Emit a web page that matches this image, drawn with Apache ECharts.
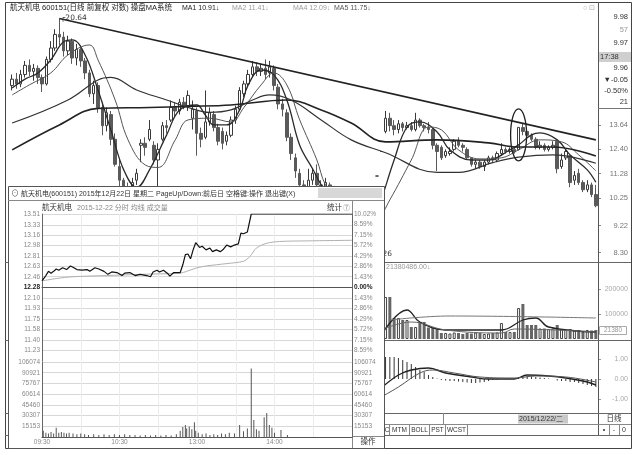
<!DOCTYPE html>
<html>
<head>
<meta charset="UTF-8">
<title>航天机电 600151 日线 操盘MA系统</title>
<style>
  html, body { margin: 0; padding: 0; background: #fff; }
  #main { width: 640px; height: 455px; }
</style>
</head>
<body>
<div id="main"></div>
<script src="https://cdn.jsdelivr.net/npm/echarts@6.0.0/dist/echarts.min.js"></script>
<script type="text/javascript">
// ---- 日K线 (前复权, 对数坐标) 每行 [开盘, 收盘, 最低, 最高] ----
var kData = [
  [15.9, 16.3, 15.6, 16.6], [16.3, 16.0, 15.7, 16.7], [16.0, 16.6, 15.8, 16.9], [16.6, 17.2, 16.4, 17.5],
  [17.2, 16.8, 16.5, 17.6], [16.8, 17.0, 16.2, 17.3], [17.0, 16.4, 16.0, 17.2], [16.4, 16.0, 15.5, 16.6],
  [16.0, 17.6, 15.9, 17.8], [17.6, 18.4, 17.4, 18.9], [18.4, 19.4, 18.2, 19.8], [19.4, 19.2, 18.6, 20.64],
  [19.2, 18.2, 17.8, 19.6], [18.2, 18.9, 17.9, 19.3], [18.9, 17.7, 17.3, 19.1], [17.7, 18.3, 17.2, 18.7],
  [18.3, 17.5, 17.1, 18.6], [17.5, 16.7, 16.3, 17.7], [16.7, 15.4, 15.2, 16.9], [15.4, 15.9, 14.8, 16.2],
  [15.9, 14.6, 14.3, 16.1], [14.6, 13.6, 13.1, 14.9], [13.6, 14.3, 13.3, 14.6], [14.2, 12.9, 12.6, 14.4],
  [12.9, 11.7, 11.6, 13.2], [11.6, 11.0, 10.6, 11.9], [11.0, 10.6, 10.3, 11.1], [10.5, 10.4, 9.9, 10.9],
  [10.4, 10.9, 10.2, 11.1], [11.0, 11.3, 10.8, 11.5], [12.6, 12.7, 11.8, 12.9], [12.7, 12.5, 12.1, 13.0],
  [12.9, 13.4, 12.8, 13.9], [12.6, 11.9, 11.7, 12.8], [11.9, 12.4, 10.7, 12.7], [12.9, 13.6, 12.8, 13.8],
  [13.6, 13.5, 13.2, 13.9], [13.9, 14.6, 13.8, 15.0], [14.6, 14.4, 14.1, 14.9], [14.4, 14.9, 14.2, 15.1],
  [14.9, 14.7, 14.5, 15.2], [14.7, 15.3, 14.4, 15.6], [14.0, 14.5, 13.4, 15.0], [14.4, 13.2, 12.1, 14.6],
  [13.2, 12.9, 12.5, 13.5], [13.0, 13.8, 12.9, 15.6], [13.8, 14.3, 13.6, 14.6], [14.2, 13.5, 13.3, 14.4],
  [13.5, 12.8, 12.6, 13.7], [13.3, 12.7, 12.4, 13.5], [12.8, 13.1, 12.6, 13.3], [13.1, 13.9, 13.0, 14.1],
  [13.9, 14.5, 13.7, 14.7], [14.5, 15.6, 14.4, 15.8], [15.4, 16.0, 15.2, 16.2], [16.0, 16.6, 15.8, 16.9],
  [16.6, 17.1, 16.4, 17.5], [17.1, 16.8, 16.5, 17.4], [16.8, 17.0, 16.5, 17.3], [17.0, 16.6, 16.3, 17.6],
  [16.7, 17.1, 16.4, 17.5], [17.0, 15.9, 15.6, 17.2], [15.8, 14.8, 14.5, 16.0], [14.8, 14.5, 14.1, 15.1],
  [14.3, 13.0, 12.8, 14.5], [13.0, 12.2, 11.9, 13.2], [12.0, 11.4, 11.1, 12.2], [11.3, 10.8, 10.6, 11.5],
  [10.8, 10.5, 10.2, 11.0], [10.6, 11.0, 10.5, 11.5], [11.0, 11.3, 10.8, 11.5], [11.3, 10.8, 10.6, 11.7],
  [10.8, 10.6, 10.3, 11.0], [10.6, 10.9, 10.4, 11.1], [10.8, 10.3, 10.1, 10.9], [10.3, 9.8, 9.6, 10.4],
  [9.8, 9.5, 9.2, 10.0], [9.4, 9.0, 8.8, 9.6], [9.0, 9.2, 8.7, 9.4], [9.2, 8.8, 8.6, 9.3],
  [8.8, 8.5, 8.3, 8.9], [8.5, 8.4, 8.26, 8.6], [8.45, 8.40, 8.30, 8.55], [9.24, 9.24, 9.24, 9.24],
  [10.16, 10.16, 10.16, 10.16], [11.18, 11.18, 11.18, 11.18], [12.30, 12.30, 12.30, 12.30], [13.3, 14.0, 13.2, 14.4],
  [14.0, 13.6, 13.3, 14.3], [13.6, 13.4, 13.1, 13.9], [13.4, 13.7, 13.2, 13.9], [13.7, 13.5, 13.3, 13.8],
  [13.5, 13.6, 13.4, 13.8], [13.6, 13.4, 13.3, 13.8], [13.4, 13.9, 13.3, 14.3], [13.9, 13.6, 13.5, 14.0],
  [13.6, 13.5, 13.3, 13.7], [13.5, 13.4, 13.2, 13.8], [13.4, 12.6, 12.4, 13.5], [12.6, 12.3, 11.4, 12.7],
  [12.5, 12.0, 11.9, 12.6], [12.1, 12.3, 12.0, 12.4], [12.2, 12.3, 12.1, 12.5], [12.4, 12.8, 12.3, 12.9],
  [12.8, 12.6, 12.5, 13.0], [12.6, 12.5, 12.3, 12.7], [12.4, 12.0, 11.9, 12.5], [12.0, 11.7, 11.6, 12.0],
  [11.7, 11.8, 11.5, 11.9], [11.8, 11.6, 11.5, 11.9], [11.6, 11.8, 11.4, 11.9], [11.8, 12.0, 11.7, 12.1],
  [12.0, 11.9, 11.8, 12.1], [11.9, 12.2, 11.8, 12.3], [12.2, 12.4, 12.1, 12.7], [12.4, 12.3, 12.2, 12.5],
  [12.3, 12.4, 12.2, 12.5], [12.4, 12.28, 12.2, 12.5], [12.39, 13.51, 12.35, 13.51], [13.5, 13.3, 13.1, 13.7],
  [13.3, 13.1, 12.9, 13.5], [13.1, 12.9, 12.8, 13.2], [12.9, 12.5, 12.4, 13.0], [12.5, 12.6, 12.4, 12.8],
  [12.6, 12.4, 12.3, 12.7], [12.4, 12.5, 12.3, 12.6], [12.5, 12.6, 12.4, 12.8], [12.8, 11.5, 11.3, 12.9],
  [11.6, 11.9, 11.5, 12.2], [12.0, 12.3, 11.9, 12.4], [12.1, 10.9, 10.7, 12.1], [11.0, 11.2, 10.8, 11.4],
  [11.3, 10.9, 10.8, 11.5], [10.9, 10.6, 10.5, 11.0], [10.6, 10.8, 10.5, 11.0], [10.8, 10.4, 10.3, 10.9],
  [10.4, 9.96, 9.9, 10.8]
];
var priceTicks = [8.30, 9.22, 10.25, 11.28, 12.40, 13.64];
var priceMin = 8.0, priceMax = 21.17;

// 操盘MA系统 均线 (读图取样: [K线序号, 价格])
var ma1 = [[0,15.75],[3,16.3],[6,16.7],[9,17.57],[12,18.85],[14,18.99],[17,17.91],[20,15.63],[23,13.38],[26,11.45],
  [29,10.69],[32,11.45],[36,13.12],[39,14.46],[43,14.74],[45,14.18],[47,13.64],[50,13.64],[53,14.46],[55,15.94],
  [58,16.89],[61,16.57],[64,15.03],[67,12.6],[70,11.5],[72,10.8],[75,10.0],[79,9.1],[82,8.7],[84,9.3],[86,10.19],
  [89,11.9],[92,13.53],[95,13.8],[99,13.27],[102,12.38],[107,11.9],[111,11.9],[116,12.38],[118,12.62],[121,13.12],
  [123,13.22],[127,12.87],[130,12.14],[134,11.45],[136,10.91]];
var ma2 = [[0,15.33],[4,15.94],[9,16.7],[13,17.91],[18,18.62],[20,17.57],[24,15.03],[27,12.87],[31,11.67],[34,11.56],
  [38,12.87],[41,13.91],[46,14.0],[51,13.8],[54,14.6],[58,15.94],[61,16.7],[64,15.94],[67,13.91],[71,11.9],[73,10.8],
  [77,9.8],[81,9.1],[85,9.4],[88,10.19],[93,11.9],[97,13.53],[100,13.38],[104,12.38],[109,11.95],[114,12.0],
  [118,12.38],[123,12.87],[128,12.77],[132,12.14],[136,11.41]];
var ma4 = [[0,12.38],[11,13.64],[20,14.55],[32,14.6],[41,14.66],[51,14.74],[64,15.03],[72,14.46],[79,13.74],
  [87,12.77],[99,12.87],[111,12.72],[118,12.52],[126,12.52],[136,12.09]];
var ma5 = [[0,13.74],[13,15.03],[20,16.25],[23,16.41],[29,15.63],[36,15.03],[41,14.6],[46,14.32],[51,14.46],
  [56,15.03],[60,15.33],[65,15.03],[72,13.91],[79,12.87],[87,12.24],[99,11.34],[104,11.34],[112,11.78],
  [118,12.03],[126,12.14],[136,11.75]];

var trendFrom = [11, 20.64], trendTo = [136, 12.87];   // 压力线
var highMark = [11, 20.64], lowMark = [81, 8.26];
var circleAt = [118, 13.12];                            // 12月22日 涨停

// 成交量 / MACD (从第86根开始, 左边被分时窗口挡住)
var lowerStart = 86;
var volData = [8000, 168000, 168000, 84000, 84000, 76000, 76000, 48000, 48000, 68000, 68000, 46000, 46000, 44000,
  24000, 24000, 22000, 26000, 24000, 20000, 24000, 22000, 26000, 24000, 20000, 22000, 24000, 26000, 64000, 28000,
  28000, 28000, 124000, 140000, 56000, 56000, 56000, 42000, 42000, 40000, 42000, 56000, 38000, 36000, 40000,
  34000, 36000, 32000, 36000, 34000, 36000];
var volMa1 = [[86,16000],[92,116000],[95,68000],[101,36000],[114,36000],[119,76000],[122,84000],[125,48000],[136,28000]];
var volMa2 = [[86,36000],[93,68000],[101,36000],[114,24000],[117,40000],[136,28000]];
var volMa3 = [[88,76000],[102,92000],[136,84000]];
var volTicks = [100000, 200000];
var macdHist = [0.6, 1.1, 1.1, 1.1, 1.05, 0.95, 0.85, 0.75, 0.6, 0.45, 0.35, 0.2, 0.1, 0.02, -0.05, -0.08, -0.1,
  -0.1, -0.12, -0.15, -0.18, -0.2, -0.2, -0.18, -0.15, -0.1, -0.05, -0.02, 0.0, 0.02, 0.03, 0.03, 0.1, 0.15, 0.15,
  0.12, 0.1, 0.08, 0.05, 0.03, 0.0, -0.08, -0.1, -0.1, -0.15, -0.15, -0.2, -0.25, -0.3, -0.35, -0.4];
var macdDif = [[86,-0.45],[90,0.2],[93,0.45],[97,0.55],[101,0.3],[107,0.1],[111,0.0],[117,0.0],[120,0.2],
  [125,0.15],[129,0.05],[134,-0.15],[136,-0.3]];
var macdDea = [[86,-0.9],[90,-0.4],[95,0.3],[98,0.45],[103,0.3],[109,0.1],[117,0.05],[122,0.15],[129,0.1],[136,-0.15]];
var macdTicks = [-1, 0, 1];

// 2015-12-22 分时
var prevClose = 12.28;
var minMinutes = [0,3,5,7,9,11,13,16,19,22,24,27,31,35,37,41,44,48,51,54,58,62,64,68,72,76,81,84,86,89,
  91,94,97,99,102,107,109,111,113,115,117,119,122,124,127,130,132,135,138,140,143,146,149,152,154,156,159,162,240];
var minPrices = [12.39,12.48,12.55,12.52,12.55,12.59,12.57,12.61,12.58,12.64,12.62,12.58,12.57,12.58,12.55,12.61,
  12.59,12.55,12.50,12.54,12.53,12.48,12.52,12.53,12.48,12.50,12.48,12.46,12.54,12.57,12.54,12.57,12.52,12.47,
  12.53,12.53,12.66,12.83,12.84,12.76,12.91,13.03,12.95,12.97,12.91,12.94,12.88,12.91,12.88,12.91,12.99,12.96,
  12.99,13.01,13.19,13.18,13.21,13.51,13.51];
var avgMinutes = [0,11,24,50,76,107,112,120,127,143,156,161,166,174,184,205,240];
var avgPrices = [12.39,12.43,12.46,12.48,12.50,12.52,12.55,12.61,12.64,12.68,12.72,12.80,12.94,13.02,13.05,13.06,13.07];
var volMinutes = [1,3,5,7,9,11,13,15,17,19,21,24,27,30,33,36,40,44,48,52,56,60,64,68,72,76,80,84,88,92,
  96,100,104,107,109,111,112,114,116,118,119,121,124,127,130,133,136,139,142,145,149,153,156,159,162,164,166,168,
  172,174,176,178,180,185,190];
var volValues = [9000,6000,5000,7000,5000,13000,6000,7000,6000,5000,6000,5000,4000,5000,4000,3000,4000,3000,4000,
  3000,4000,3000,4000,3000,3000,2000,3000,2000,3000,2000,3000,2000,4000,9000,14000,17000,12000,15000,11000,21000,
  9000,6000,4000,5000,3000,4000,3000,5000,4000,6000,5000,17000,8000,12000,97000,24000,11000,9000,28000,34000,
  17000,13000,6000,10000,3000];
var inPriceTicks = [13.51, 13.33, 13.16, 12.98, 12.81, 12.63, 12.46, 12.28, 12.10, 11.93, 11.75, 11.58, 11.40, 11.23];
var pctTicks = [10.02, 8.59, 7.15, 5.72, 4.29, 2.86, 1.43, 0, -1.43, -2.86, -4.29, -5.72, -7.15, -8.59];
var inVolTicks = [106074, 90921, 75767, 60614, 45460, 30307, 15153];
var timeTicks = [0, 60, 120, 180];
var timeLabels = ['09:30', '10:30', '13:00', '14:00'];
var halfHours = [0, 30, 60, 90, 120, 150, 180, 210, 240];

var FONT = '"Liberation Sans", "Noto Sans CJK SC", sans-serif';
var L = Math.log;
var cats = kData.map(function (d, i) { return String(i); });

function lnPairs(arr) {
  return arr.map(function (d) { return [d[0], L(d[1])]; });
}
function txt(x, y, s, color, size, align, z) {
  return { type: 'text', z: z || 5, silent: true,
    style: { x: x, y: y, text: s, fill: color || '#333', fontSize: size || 7.5, fontFamily: FONT,
      align: align || 'left', verticalAlign: 'middle' } };
}
function hline(x1, x2, y, color, z) {
  return { type: 'line', z: z || 5, silent: true, shape: { x1: x1, y1: y, x2: x2, y2: y },
    style: { stroke: color || '#555', lineWidth: 1 } };
}
function vline(x, y1, y2, color, z) {
  return { type: 'line', z: z || 5, silent: true, shape: { x1: x, y1: y1, x2: x, y2: y2 },
    style: { stroke: color || '#555', lineWidth: 1 } };
}
function maLine(data, color, width) {
  return { type: 'line', xAxisIndex: 0, yAxisIndex: 0, data: lnPairs(data), smooth: 0.4, symbol: 'none',
    lineStyle: { color: color, width: width }, z: 3, silent: true };
}
function sub(data, xi, yi, color, width, z) {
  return { type: 'line', xAxisIndex: xi, yAxisIndex: yi, data: data, smooth: 0.4, symbol: 'none',
    lineStyle: { color: color, width: width }, z: z || 3, silent: true };
}

var hideAxis = { axisLine: { show: false }, axisTick: { show: false }, axisLabel: { show: false }, splitLine: { show: false } };
function catAxis(gi) {
  return Object.assign({ type: 'category', gridIndex: gi, data: cats, boundaryGap: true }, hideAxis);
}
var smallLbl = { fontSize: 6.5, color: '#888', fontFamily: FONT };
function plain(v) { return String(v); }

var volBars = volData.map(function (v, k) {
  var d = kData[k + lowerStart];
  var up = d[1] >= d[0];
  return { value: [k + lowerStart, v],
    itemStyle: up ? { color: '#fff', borderColor: '#444', borderWidth: 1 } : { color: '#666' } };
});

var option = {
  animation: false,
  backgroundColor: '#fff',
  textStyle: { fontFamily: FONT },
  grid: [
    { left: 10, right: 42, top: 12, height: 250 },
    { left: 10, right: 42, top: 263, height: 76 },
    { left: 10, right: 42, top: 341, height: 72 },
    { left: 42, right: 288, top: 214, height: 147 },
    { left: 42, right: 288, top: 362, height: 75 }
  ],
  xAxis: [
    catAxis(0), catAxis(1), catAxis(2),
    { type: 'value', gridIndex: 3, min: 0, max: 240, z: 60,
      axisLine: { show: true, lineStyle: { color: '#555' } },
      axisTick: { show: false, customValues: halfHours }, axisLabel: { show: false },
      splitLine: { show: true, lineStyle: { color: '#ececec' } } },
    { type: 'value', gridIndex: 4, min: 0, max: 240, z: 60,
      axisLine: { show: true, lineStyle: { color: '#555' } },
      axisTick: { show: false, customValues: halfHours },
      axisLabel: Object.assign({ customValues: timeTicks, margin: 2,
        formatter: function (v) { return timeLabels[timeTicks.indexOf(v)]; } }, smallLbl),
      splitLine: { show: true, lineStyle: { color: '#ececec' } } }
  ],
  yAxis: [
    { type: 'value', gridIndex: 0, position: 'right', min: L(priceMin), max: L(priceMax),
      axisLine: { show: false },
      axisTick: { show: true, length: 3, customValues: priceTicks.map(L), lineStyle: { color: '#888' } },
      axisLabel: { customValues: priceTicks.map(L), align: 'right', margin: 30, fontSize: 7.5, color: '#777',
        formatter: function (v) { return Math.exp(v).toFixed(2); } },
      splitLine: { show: false } },
    { type: 'value', gridIndex: 1, position: 'right', min: 0, max: 304000,
      axisLine: { show: false },
      axisTick: { show: true, length: 3, customValues: volTicks, lineStyle: { color: '#999' } },
      axisLabel: { customValues: volTicks, align: 'right', margin: 30, fontSize: 7, color: '#aaa', formatter: plain },
      splitLine: { show: false } },
    { type: 'value', gridIndex: 2, position: 'right', min: -1.7, max: 1.9,
      axisLine: { show: false },
      axisTick: { show: true, length: 3, customValues: macdTicks, lineStyle: { color: '#999' } },
      axisLabel: { customValues: macdTicks, align: 'right', margin: 30, fontSize: 7, color: '#aaa',
        formatter: function (v) { return v.toFixed(2); } },
      splitLine: { show: false } },
    { type: 'value', gridIndex: 3, position: 'left', min: 11.05, max: 13.51, z: 60,
      axisLine: { show: true, lineStyle: { color: '#666' } },
      axisTick: { show: false, customValues: inPriceTicks },
      axisLabel: Object.assign({ customValues: inPriceTicks, margin: 2,
        formatter: function (v) { var s = v.toFixed(2); return Math.abs(v - prevClose) < 0.001 ? '{b|' + s + '}' : s; },
        rich: { b: { fontSize: 6.5, color: '#222', fontWeight: 'bold' } } }, smallLbl),
      splitLine: { show: true, lineStyle: { color: '#d8d8d8' } } },
    { type: 'value', gridIndex: 3, position: 'right', min: -10.02, max: 10.02, z: 60,
      axisLine: { show: true, lineStyle: { color: '#666' } },
      axisTick: { show: false, customValues: pctTicks },
      axisLabel: Object.assign({ customValues: pctTicks, margin: 2,
        formatter: function (v) { var s = Math.abs(v).toFixed(2) + '%'; return v === 0 ? '{b|' + s + '}' : s; },
        rich: { b: { fontSize: 6.5, color: '#222', fontWeight: 'bold' } } }, smallLbl),
      splitLine: { show: false } },
    { type: 'value', gridIndex: 4, position: 'left', min: 0, max: 106074, z: 60,
      axisLine: { show: true, lineStyle: { color: '#666' } },
      axisTick: { show: false, customValues: inVolTicks },
      axisLabel: Object.assign({ customValues: inVolTicks, margin: 2, formatter: plain }, smallLbl),
      splitLine: { show: true, lineStyle: { color: '#d8d8d8' } } },
    { type: 'value', gridIndex: 4, position: 'right', min: 0, max: 106074, z: 60,
      axisLine: { show: true, lineStyle: { color: '#666' } },
      axisTick: { show: false, customValues: inVolTicks },
      axisLabel: Object.assign({ customValues: inVolTicks, margin: 2, formatter: plain }, smallLbl),
      splitLine: { show: false } }
  ],
  series: [
    { type: 'candlestick', xAxisIndex: 0, yAxisIndex: 0, barWidth: 3, silent: true,
      data: kData.map(function (d) { return d.map(L); }),
      itemStyle: { color: '#fff', color0: '#5a5a5a', borderColor: '#3a3a3a', borderColor0: '#5a5a5a', borderWidth: 1 },
      markLine: { silent: true, symbol: ['none', 'none'], label: { show: false },
        lineStyle: { color: '#222', width: 1.6, type: 'solid' },
        data: [[{ coord: [trendFrom[0], L(trendFrom[1])] }, { coord: [trendTo[0], L(trendTo[1])] }]] },
      markPoint: { silent: true, symbol: 'circle', symbolSize: 1, itemStyle: { color: 'rgba(0,0,0,0)' },
        label: { show: true, position: 'right', fontSize: 7.5, color: '#333', fontFamily: 'DejaVu Sans' },
        data: [
          { coord: [highMark[0], L(highMark[1])], label: { distance: 1, formatter: '┌' + highMark[1].toFixed(2) } },
          { coord: [lowMark[0], L(lowMark[1])], label: { distance: 15, formatter: lowMark[1].toFixed(2) } }
        ] } },
    maLine(ma1, '#2a2a2a', 1.3),
    maLine(ma2, '#555', 1),
    maLine(ma4, '#222', 1.6),
    maLine(ma5, '#333', 1.2),
    { type: 'custom', xAxisIndex: 0, yAxisIndex: 0, silent: true, clip: false, z: 4,
      data: [[circleAt[0], L(circleAt[1])]],
      renderItem: function (params, api) {
        var c = api.coord([api.value(0), api.value(1)]);
        return { type: 'ellipse', shape: { cx: c[0], cy: c[1], rx: 8, ry: 26 },
          style: { fill: 'none', stroke: '#222', lineWidth: 1.3 } };
      } },
    { type: 'bar', xAxisIndex: 1, yAxisIndex: 1, barWidth: 3, data: volBars, silent: true },
    sub(volMa1, 1, 1, '#222', 1.3),
    sub(volMa2, 1, 1, '#666', 1),
    sub(volMa3, 1, 1, '#777', 1),
    { type: 'bar', xAxisIndex: 2, yAxisIndex: 2, barWidth: 1, silent: true, itemStyle: { color: '#333' },
      data: macdHist.map(function (v, k) { return [k + lowerStart, v]; }) },
    sub(macdDif, 2, 2, '#222', 1.4),
    sub(macdDea, 2, 2, '#555', 1),
    { type: 'line', xAxisIndex: 3, yAxisIndex: 3, z: 62, symbol: 'none', silent: true,
      data: minMinutes.map(function (m, k) { return [m, minPrices[k]]; }),
      lineStyle: { color: '#111', width: 1.2 },
      markLine: { silent: true, symbol: ['none', 'none'], label: { show: false },
        data: [{ yAxis: prevClose, lineStyle: { color: '#444', width: 1, type: 'solid' } },
               { xAxis: 120, lineStyle: { color: '#777', width: 1, type: 'solid' } }] } },
    { type: 'line', xAxisIndex: 3, yAxisIndex: 3, z: 61, symbol: 'none', silent: true, smooth: 0.3,
      data: avgMinutes.map(function (m, k) { return [m, avgPrices[k]]; }),
      lineStyle: { color: '#b0b0b0', width: 1 } },
    { type: 'bar', xAxisIndex: 4, yAxisIndex: 5, z: 61, barWidth: 1, silent: true, itemStyle: { color: '#555' },
      data: volMinutes.map(function (m, k) { return [m, volValues[k]]; }),
      markLine: { silent: true, symbol: ['none', 'none'], label: { show: false },
        data: [{ xAxis: 120, lineStyle: { color: '#777', width: 1, type: 'solid' } }] } }
  ],
  graphic: { elements: [
    // 外框与分区线
    { type: 'rect', z: 1, silent: true, shape: { x: 5.5, y: 2.5, width: 626, height: 446 }, style: { fill: 'none', stroke: '#444', lineWidth: 1 } },
    vline(598.5, 2, 435, '#555'),
    hline(598, 631, 108.5, '#777'),
    hline(5, 631, 262.5, '#666'),
    hline(5, 631, 340.5, '#666'),
    hline(5, 631, 413.5, '#666'),
    hline(384, 631, 424.5, '#888'),
    hline(5, 631, 435.5, '#666'),
    // 顶部标题
    txt(10, 8, '航天机电 600151(日线 前复权 对数) 操盘MA系统', '#222'),
    txt(182, 8, 'MA1 10.91↓', '#222', 7),
    txt(232, 8, 'MA2 11.41↓', '#9a9a9a', 7),
    txt(293, 8, 'MA4 12.09↓', '#9a9a9a', 7),
    txt(334, 8, 'MA5 11.75↓', '#555', 7),
    txt(583, 8, '○ ⊡', '#aaa', 7),
    // 右侧报价
    txt(628, 17, '9.98', '#333', 7.5, 'right'),
    txt(628, 30, '57', '#999', 7.5, 'right'),
    txt(628, 43, '9.97', '#333', 7.5, 'right'),
    { type: 'rect', z: 4, silent: true, shape: { x: 599, y: 52, width: 32, height: 10 }, style: { fill: '#cfcfcf' } },
    txt(600, 57, '17:38', '#333', 7.5),
    txt(628, 68, '9.96', '#333', 7.5, 'right'),
    txt(628, 80, '▼-0.05', '#333', 7.5, 'right'),
    txt(628, 91, '-0.50%', '#333', 7.5, 'right'),
    txt(628, 102, '21', '#333', 7.5, 'right'),
    txt(386, 267, '21380486.00↓', '#999', 7),
    { type: 'rect', z: 4, silent: true, shape: { x: 599.5, y: 326.5, width: 27, height: 8 }, style: { fill: '#fff', stroke: '#aaa', lineWidth: 1 } },
    txt(613, 330.5, '21380', '#999', 6.5, 'center'),
    // 底部
    vline(443.5, 413, 424, '#888'),
    { type: 'rect', z: 4, silent: true, shape: { x: 518, y: 414.5, width: 50, height: 9 }, style: { fill: '#c9c9c9' } },
    txt(519, 419, '2015/12/22/二', '#333', 7),
    txt(614, 419, '日线', '#333', 7.5, 'center'),
    vline(389.5, 424, 435, '#888'), vline(409.5, 424, 435, '#888'), vline(429.5, 424, 435, '#888'),
    vline(445.5, 424, 435, '#888'), vline(467.5, 424, 435, '#888'),
    vline(609.5, 424, 435, '#888'), vline(619.5, 424, 435, '#888'),
    txt(387, 430, 'C', '#333', 6.5, 'center'),
    txt(399.5, 430, 'MTM', '#333', 6.5, 'center'),
    txt(419.5, 430, 'BOLL', '#333', 6.5, 'center'),
    txt(437.5, 430, 'PST', '#333', 6.5, 'center'),
    txt(456.5, 430, 'WCST', '#333', 6.5, 'center'),
    txt(604, 430, '•', '#333', 7, 'center'),
    txt(614, 430, '-', '#333', 7, 'center'),
    txt(624, 430, '0', '#333', 7, 'center'),
    // 分时窗口
    { type: 'rect', z: 50, silent: true, shape: { x: 8.5, y: 186.5, width: 376, height: 262 }, style: { fill: '#fff', stroke: '#555', lineWidth: 1 } },
    hline(8, 384, 200.5, '#888', 51),
    { type: 'rect', z: 51, silent: true, shape: { x: 318, y: 188, width: 64, height: 10 }, style: { fill: '#d8d8d8' } },
    txt(11, 194, '⊙', '#555', 8, 'left', 52),
    txt(21, 194, '航天机电(600151) 2015年12月22日 星期二 PageUp/Down:前后日 空格键:操作 退出键(X)', '#333', 7, 'left', 52),
    txt(42, 208, '航天机电', '#333', 7.5, 'left', 52),
    txt(77, 208, '2015-12-22 分时 均线 成交量', '#888', 7, 'left', 52),
    txt(327, 208, '统计', '#333', 7.5, 'left', 52),
    txt(343, 208, '⑦', '#888', 7, 'left', 52),
    vline(352.5, 201, 448, '#888', 51),
    hline(352, 384, 436.5, '#888', 51),
    txt(368, 442, '操作', '#333', 7.5, 'center', 52)
  ] }
};

var myChart = echarts.init(document.getElementById('main'));
myChart.setOption(option);
</script>
</body>
</html>
